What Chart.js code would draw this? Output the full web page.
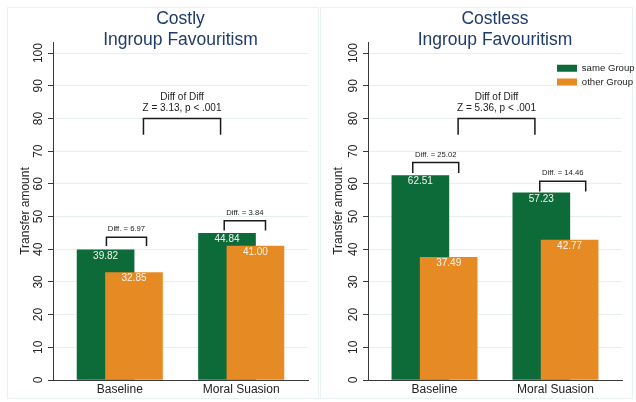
<!DOCTYPE html>
<html>
<head>
<meta charset="utf-8">
<script src="https://cdn.jsdelivr.net/npm/chart.js@4"></script>
<style>
  html, body { margin: 0; padding: 0; background: #fff; }
  body { width: 636px; height: 402px; position: relative; overflow: hidden; }
  .panel { position: absolute; top: 7px; height: 390px; border: 1px solid #e9f1f3; background: #fff; overflow: visible; }
  #p1 { left: 7px; width: 310px; }
  #p2 { left: 320px; width: 311px; }
  canvas { display: block; position: relative; }
</style>
</head>
<body>
<div class="panel" id="p1"><canvas id="costly" width="310" height="390"></canvas></div>
<div class="panel" id="p2"><canvas id="costless" width="314" height="390"></canvas></div>
<script>
const categories = ['Baseline', 'Moral Suasion'];
const yTicks = [0, 10, 20, 30, 40, 50, 60, 70, 80, 90, 100];

const costlySame = [39.82, 44.84];
const costlyOther = [32.85, 41.00];
const costlessSame = [62.51, 57.23];
const costlessOther = [37.49, 42.77];

const costlyDiffLabels = ['Diff. = 6.97', 'Diff. = 3.84'];
const costlessDiffLabels = ['Diff. = 25.02', 'Diff. = 14.46'];
const costlyDiD = ['Diff of Diff', 'Z = 3.13, p < .001'];
const costlessDiD = ['Diff of Diff', 'Z = 5.36, p < .001'];

// brackets in axis units: [x from, x to, top value, leg end value]
const costlyBrackets = [[-0.11, 0.22, 43.7, 41.0], [0.86, 1.20, 48.7, 45.7]];
const costlessBrackets = [[-0.18, 0.20, 66.5, 63.3], [0.87, 1.25, 60.8, 57.7]];
const didBracket = [0.195, 0.83, 80, 75];

const GREEN = '#0d6b39';
const ORANGE = '#e68b24';
const FONT = '"Liberation Sans", Arial, Helvetica, sans-serif';
const shift = 0.117; // half the offset between the two overlapping bars

Chart.defaults.font.family = FONT;
Chart.defaults.color = '#222';

function makeAnnotate(cfg) {
    return {
        id: 'annotate',
        afterLayout(chart) {
            if (!cfg.legendAt) return;
            const lg = chart.legend;
            lg.left = cfg.legendAt[0];
            lg.top = cfg.legendAt[1];
            lg.right = lg.left + lg.width;
            lg.bottom = lg.top + lg.height;
        },
        afterDatasetsDraw(chart) {
            const ctx = chart.ctx, xs = chart.scales.x, ys = chart.scales.y;
            ctx.save();
            ctx.textAlign = 'center';
            ctx.textBaseline = 'middle';
            // values inside the bars
            ctx.fillStyle = '#f4f4f4';
            ctx.font = '10px ' + FONT;
            chart.data.datasets.forEach((ds, di) => {
                chart.getDatasetMeta(di).data.forEach((bar, i) => {
                    ctx.fillText(ds.data[i].y.toFixed(2), bar.x, bar.y + 6);
                });
            });
            // brackets
            ctx.strokeStyle = '#1a1a1a';
            ctx.lineWidth = 1.5;
            ctx.fillStyle = '#222';
            const bracket = b => {
                const x0 = xs.getPixelForValue(b[0]), x1 = xs.getPixelForValue(b[1]);
                const yt = ys.getPixelForValue(b[2]), yb = ys.getPixelForValue(b[3]);
                ctx.beginPath();
                ctx.moveTo(x0, yb); ctx.lineTo(x0, yt); ctx.lineTo(x1, yt); ctx.lineTo(x1, yb);
                ctx.stroke();
                return [(x0 + x1) / 2, yt];
            };
            ctx.font = '7.7px ' + FONT;
            cfg.brackets.forEach((b, i) => {
                const [cx, yt] = bracket(b);
                ctx.fillText(cfg.diffs[i], cx, yt - 8);
            });
            const [cx, yt] = bracket(didBracket);
            ctx.font = '10px ' + FONT;
            ctx.fillText(cfg.did[0], cx, yt - 21);
            ctx.fillText(cfg.did[1], cx, yt - 10);
            ctx.restore();
        }
    };
}

function buildChart(id, titleLines, same, other, axisWidth, padRight, annot) {
    return new Chart(document.getElementById(id), {
        type: 'bar',
        data: {
            datasets: [
                { label: 'same Group', data: same.map((v, i) => ({ x: i - shift, y: v })), backgroundColor: GREEN, order: 1 },
                { label: 'other Group', data: other.map((v, i) => ({ x: i + shift, y: v })), backgroundColor: ORANGE, order: 0 }
            ]
        },
        options: {
            responsive: false,
            animation: false,
            layout: { padding: { left: 0, right: padRight, top: 0, bottom: 0 } },
            datasets: { bar: { grouped: false, barThickness: 57, borderWidth: 0 } },
            plugins: {
                title: {
                    display: true, text: titleLines, fullSize: false, color: '#1f3b6b',
                    font: { size: 17.5, weight: 'normal', lineHeight: 20.5 / 17.5 },
                    padding: { top: 1, bottom: -8 }
                },
                legend: {
                    display: !!annot.legendAt, position: 'chartArea', align: 'start',
                    labels: {
                        boxWidth: 20, boxHeight: 7, padding: 4, color: '#222', font: { size: 9.6 },
                        sort: (a, b) => a.datasetIndex - b.datasetIndex
                    }
                },
                tooltip: { enabled: false }
            },
            scales: {
                x: {
                    type: 'linear', min: -0.55, max: 1.55, offset: false,
                    afterBuildTicks: s => { s.ticks = categories.map((c, i) => ({ value: i })); },
                    afterFit: s => { s.height = 18; },
                    ticks: { callback: v => categories[v], font: { size: 12 }, color: '#222', padding: 2, maxRotation: 0, autoSkip: false },
                    grid: { display: false, drawTicks: false },
                    border: { display: true, color: '#3a3a3a', width: 1 }
                },
                y: {
                    min: 0, max: 103.4,
                    afterBuildTicks: s => { s.ticks = yTicks.map(v => ({ value: v })); },
                    afterFit: s => { s.width = axisWidth; },
                    ticks: { minRotation: 90, maxRotation: 90, crossAlign: 'center', padding: -1, font: { size: 12 }, color: '#222' },
                    grid: { color: '#e8eff2', tickColor: '#3a3a3a', tickLength: 5, drawTicks: true },
                    border: { display: true, color: '#3a3a3a', width: 1 },
                    title: { display: true, text: 'Transfer amount', font: { size: 12 }, color: '#222', padding: { top: 10, bottom: 0 } }
                }
            }
        },
        plugins: [makeAnnotate(annot)]
    });
}

buildChart('costly', ['Costly', 'Ingroup Favouritism'], costlySame, costlyOther, 45, 10,
    { brackets: costlyBrackets, diffs: costlyDiffLabels, did: costlyDiD });
buildChart('costless', ['Costless', 'Ingroup Favouritism'], costlessSame, costlessOther, 47, 13,
    { brackets: costlessBrackets, diffs: costlessDiffLabels, did: costlessDiD, legendAt: [232, 51.5] });
</script>
</body>
</html>
